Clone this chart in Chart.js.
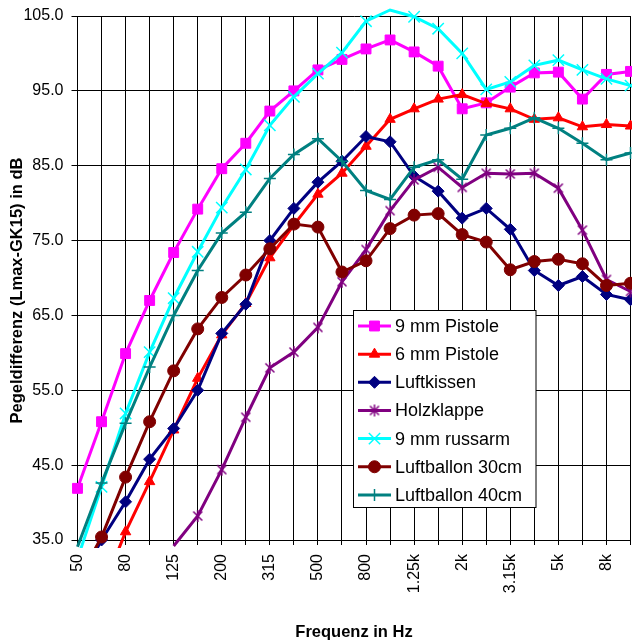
<!DOCTYPE html>
<html><head><meta charset="utf-8">
<script src="https://cdn.jsdelivr.net/npm/chart.js@4"></script>
<style>html,body{margin:0;padding:0;overflow:hidden;background:#fff}</style>
</head><body>
<canvas id="c" width="640" height="642" style="display:block;width:640px;height:642px"></canvas>
<script>
const categories = ['50','63','80','100','125','160','200','250','315','400','500','630','800','1k','1.25k','1.6k','2k','2.5k','3.15k','4k','5k','6.3k','8k','10k'];
const shownTickLabels = ['50','80','125','200','315','500','800','1.25k','2k','3.15k','5k','8k'];
const yTickValues = [35,45,55,65,75,85,95,105];
const xTitle = 'Frequenz in Hz';
const yTitle = 'Pegeldifferenz (Lmax-GK15) in dB';

const pistole9   = [41.9,50.8,59.9,67.0,73.4,79.2,84.6,88.0,92.3,95.0,97.8,99.2,100.6,101.8,100.2,98.3,92.6,93.4,95.5,97.4,97.5,93.9,97.2,97.6];
const pistole6   = [null,28.0,36.1,42.8,49.7,56.6,62.4,66.6,72.7,77.1,81.2,84.0,87.6,91.2,92.6,93.9,94.5,93.3,92.6,91.2,91.4,90.2,90.5,90.3];
const luftkissen = [29.0,35.0,40.1,45.8,49.9,55.0,62.6,66.5,75.0,79.3,82.8,85.6,88.9,88.2,83.6,81.6,78.0,79.3,76.5,71.0,69.0,70.2,67.8,67.1];
const holzklappe = [null,null,null,null,34.2,38.2,44.4,51.4,58.0,60.1,63.4,69.5,73.8,79.0,83.1,84.8,82.1,84.0,83.9,84.0,82.0,76.4,69.8,68.2];
const russarm9   = [32.5,42.1,51.9,60.1,67.3,73.5,79.4,84.5,90.4,94.2,97.3,100.1,104.3,105.8,104.9,103.3,100.0,95.2,96.2,98.4,99.1,97.8,96.6,95.7];
const ballon30   = [29.5,35.4,43.4,50.8,57.6,63.2,67.4,70.4,73.9,77.2,76.8,70.8,72.3,76.6,78.4,78.6,75.8,74.8,71.1,72.2,72.5,71.9,69.0,69.3];
const ballon40   = [34.1,42.6,50.6,58.1,65.0,71.0,76.0,78.8,83.3,86.5,88.6,85.6,81.7,80.5,84.8,85.8,83.2,89.1,90.0,91.4,90.0,88.0,85.8,86.7];

const Y_MIN = 35, Y_MAX = 105;
const FONT = "'Liberation Sans', Arial, sans-serif";
Chart.defaults.font.family = FONT;
Chart.defaults.color = '#000';

// asterisk marker (x with vertical bar) for Holzklappe
function starMarker(color){
  const c = document.createElement('canvas');
  c.width = 14; c.height = 14;
  const g = c.getContext('2d');
  g.strokeStyle = color; g.lineWidth = 1.5;
  g.beginPath();
  g.moveTo(2.5,2.5); g.lineTo(11.5,11.5);
  g.moveTo(11.5,2.5); g.lineTo(2.5,11.5);
  g.moveTo(7,1); g.lineTo(7,13);
  g.stroke();
  return c;
}

function ds(label, data, color, style, radius, bw, fill){
  return {
    label, data,
    borderColor: color, backgroundColor: color,
    borderWidth: 3, tension: 0, spanGaps: false, clip: 8,
    pointStyle: style, markerRadius: radius,
    // markers are only shown for values inside the axis range (lines may run past it)
    pointRadius: c => { const v = c.raw; return (v == null || v < Y_MIN || v > Y_MAX) ? 0 : radius; },
    pointHoverRadius: radius,
    pointBackgroundColor: fill ? color : 'transparent',
    pointBorderColor: color, pointBorderWidth: bw
  };
}

const datasets = [
  ds('9 mm Pistole', pistole9, '#FF00FF', 'rect', 7, 1, true),
  ds('6 mm Pistole', pistole6, '#FF0000', 'triangle', 6, 1, true),
  ds('Luftkissen', luftkissen, '#000080', 'rectRot', 6, 1, true),
  ds('Holzklappe', holzklappe, '#800080', starMarker('#800080'), 7, 1.5, false),
  ds('9 mm russarm', russarm9, '#00FFFF', 'crossRot', 8, 1.5, false),
  ds('Luftballon 30cm', ballon30, '#800000', 'circle', 6, 1, true),
  ds('Luftballon 40cm', ballon40, '#008080', 'cross', 6, 1.5, false)
];
datasets.forEach((d,i)=>{ d.order = datasets.length - i; });

const boxLegend = {
  id: 'boxLegend',
  afterDraw(chart){
    const ctx = chart.ctx;
    const x0 = 353.5, y0 = 310.5, w = 182.5, h = 197;
    ctx.save();
    ctx.fillStyle = '#fff'; ctx.fillRect(x0, y0, w, h);
    ctx.strokeStyle = '#000'; ctx.lineWidth = 1; ctx.strokeRect(x0, y0, w, h);
    chart.data.datasets.forEach((d, i) => {
      const cy = 326 + i * 28.15;
      ctx.strokeStyle = d.borderColor; ctx.lineWidth = 3;
      ctx.beginPath(); ctx.moveTo(358, cy); ctx.lineTo(391, cy); ctx.stroke();
      ctx.fillStyle = d.pointBackgroundColor; ctx.strokeStyle = d.pointBorderColor; ctx.lineWidth = d.pointBorderWidth;
      Chart.helpers.drawPoint(ctx, {pointStyle: d.pointStyle, radius: d.markerRadius, rotation: 0, borderWidth: d.pointBorderWidth}, 374.5, cy);
      ctx.fillStyle = '#000'; ctx.font = '18px ' + FONT; ctx.textBaseline = 'middle'; ctx.textAlign = 'left';
      ctx.fillText(d.label, 395, cy + 1);
    });
    // y-axis title (positioned like the original, slightly below the plot centre)
    ctx.save();
    ctx.translate(17, 290.5);
    ctx.rotate(-Math.PI / 2);
    ctx.font = 'bold 16.5px ' + FONT; ctx.fillStyle = '#000';
    ctx.textAlign = 'center'; ctx.textBaseline = 'middle';
    ctx.fillText(yTitle, 0, 0);
    ctx.restore();
    ctx.restore();
  }
};

new Chart(document.getElementById('c'), {
  type: 'line',
  data: { labels: categories, datasets },
  plugins: [boxLegend],
  options: {
    responsive: false, animation: false,
    layout: { padding: { top: 16, right: 7, bottom: 0, left: 0 } },
    plugins: { legend: { display: false }, tooltip: { enabled: false } },
    scales: {
      x: {
        offset: false,
        grid: { color: '#000', lineWidth: 1, tickLength: 5, drawTicks: true },
        border: { color: '#000', width: 1 },
        ticks: {
          autoSkip: false, minRotation: 90, maxRotation: 90, padding: 9,
          font: { size: 16 }, color: '#000',
          callback: function(v, i){ const l = categories[i]; return shownTickLabels.includes(l) ? l : ''; }
        },
        title: { display: true, text: xTitle, font: { size: 16.5, weight: 'bold' }, color: '#000', padding: { top: 0, bottom: 0 } },
        afterFit(s){ s.height = 102; s.paddingLeft = 0; s.paddingRight = 0; }
      },
      y: {
        min: Y_MIN, max: Y_MAX,
        grid: { color: '#000', lineWidth: 1, tickLength: 6 },
        border: { color: '#000', width: 1 },
        afterBuildTicks(s){ s.ticks = yTickValues.map(v => ({ value: v })); },
        ticks: { padding: 8, font: { size: 16 }, color: '#000', callback: v => Number(v).toFixed(1) },
        title: { display: false },
        afterFit(s){ s.width = 77.5; s.paddingTop = 0; s.paddingBottom = 0; }
      }
    }
  }
});
</script>
</body></html>
